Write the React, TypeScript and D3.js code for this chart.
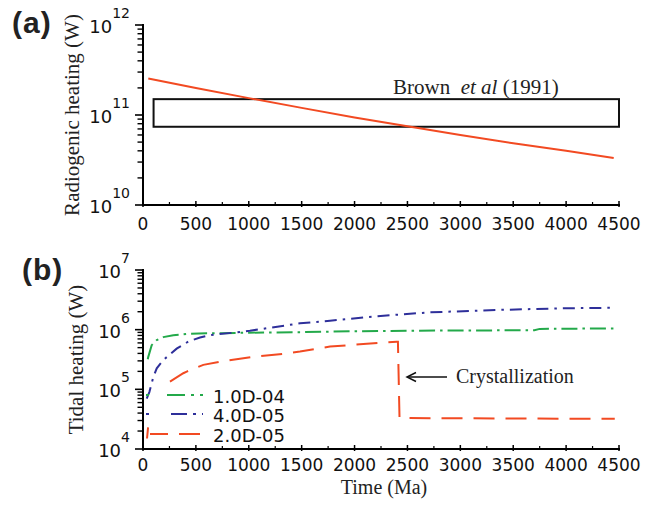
import React from "react";
import * as d3 from "d3";

// ---------- data ----------
const xTickValues = [0, 500, 1000, 1500, 2000, 2500, 3000, 3500, 4000, 4500];
const xMinorValues = [250, 750, 1250, 1750, 2250, 2750, 3250, 3750, 4250];

// panel (a)
const radTime = [50, 500, 1000, 1500, 2000, 2500, 3000, 3500, 4000, 4450];
const radValue = [2.54e11, 2.0e11, 1.54e11, 1.2e11, 9.4e10, 7.5e10, 6.0e10, 4.85e10, 4.0e10, 3.33e10];
const brownTime = [100, 4500];
const brownValue = [7.4e10, 1.5e11];
const yDecadesA = [10, 11, 12];

// panel (b)
const greenTime = [45, 50, 82, 130, 192, 286, 413, 602, 750, 1000, 1500, 2000, 2500, 3000, 3500, 3700, 3750, 4450];
const greenValue = [3.2e5, 3.5e5, 5.5e5, 6.7e5, 7.5e5, 8.05e5, 8.5e5, 8.7e5, 8.75e5, 8.9e5, 9.1e5, 9.4e5, 9.6e5, 9.7e5, 9.75e5, 9.8e5, 1.03e6, 1.05e6];
const blueTime = [35, 60, 82, 97, 130, 192, 318, 428, 539, 633, 854, 1011, 1484, 1768, 2083, 2400, 2713, 3344, 3973, 4450];
const blueValue = [7e4, 9e4, 1.26e5, 1.6e5, 2.25e5, 3.1e5, 4.8e5, 6.3e5, 7.4e5, 8.1e5, 8.9e5, 9.6e5, 1.28e6, 1.41e6, 1.6e6, 1.78e6, 1.95e6, 2.14e6, 2.28e6, 2.33e6];
const redTime = [38, 48, 150, 255, 381, 413, 570, 728, 1043, 1358, 1484, 1768, 2083, 2398, 2410, 2425, 4460];
const redValue = [1.5e4, 2.3e4, NaN, 1.35e5, 1.86e5, 1.98e5, 2.57e5, 2.9e5, 3.5e5, 4.0e5, 4.3e5, 5.2e5, 5.75e5, 6.3e5, 6.3e5, 3.3e4, 3.2e4];
const yDecadesB = [4, 5, 6, 7];
const legendLabels = ["1.0D-04", "4.0D-05", "2.0D-05"];

// ---------- styles ----------
const RED = "#f24a22";
const GREEN = "#23a94a";
const BLUE = "#2e2f9a";
const SANS = "'DejaVu Sans', Verdana, sans-serif";
const SERIF = "'Liberation Serif', 'Times New Roman', serif";
const BOLD = "'Liberation Sans', Arial, sans-serif";

const X0 = 143, X1 = 619;
const x = d3.scaleLinear().domain([0, 4500]).range([X0, X1]);
const yA = d3.scaleLog().domain([1e10, 1e12]).range([205, 25]);
const yB = d3.scaleLog().domain([1e4, 1e7]).range([449, 270]);

function XAxis({ y0, labelY }: { y0: number; labelY: number }) {
  return (
    <g>
      <line x1={X0} x2={X1 + 1} y1={y0} y2={y0} stroke="#000" strokeWidth={2} />
      {xTickValues.map((v) => (
        <line key={"M" + v} x1={x(v)} x2={x(v)} y1={y0 - 4} y2={y0 + 2} stroke="#000" strokeWidth={1.5} />
      ))}
      {xMinorValues.map((v) => (
        <line key={"m" + v} x1={x(v)} x2={x(v)} y1={y0 - 3} y2={y0} stroke="#000" strokeWidth={1.2} />
      ))}
      {xTickValues.map((v) => (
        <text key={"t" + v} x={x(v)} y={labelY} textAnchor="middle" fontFamily={SANS} fontSize={17} fill="#111">
          {v}
        </text>
      ))}
    </g>
  );
}

function YAxis({ scale, decades }: { scale: d3.ScaleLogarithmic<number, number>; decades: number[] }) {
  const [r0, r1] = scale.range();
  const minors: number[] = [];
  for (let i = 0; i < decades.length - 1; i++) {
    for (let k = 2; k <= 9; k++) minors.push(k * Math.pow(10, decades[i]));
  }
  return (
    <g>
      <line x1={X0} x2={X0} y1={r1 - 1} y2={r0 + 1} stroke="#000" strokeWidth={2} />
      {decades.map((d) => (
        <line key={"M" + d} x1={X0 - 8} x2={X0} y1={scale(Math.pow(10, d))} y2={scale(Math.pow(10, d))} stroke="#000" strokeWidth={1.6} />
      ))}
      {minors.map((v) => (
        <line key={"m" + v} x1={X0 - 5.5} x2={X0} y1={scale(v)} y2={scale(v)} stroke="#000" strokeWidth={1.4} />
      ))}
      {decades.map((d) => (
        <text key={"t" + d} x={130} y={scale(Math.pow(10, d)) + 8} textAnchor="end" fontFamily={SANS} fill="#111">
          <tspan fontSize={18}>10</tspan>
          <tspan fontSize={14} dy={-15}>{d}</tspan>
        </text>
      ))}
    </g>
  );
}

export default function App() {
  const lineA = d3
    .line<number>()
    .x((_, i) => x(radTime[i]))
    .y((v) => yA(v));
  const mk = (times: number[]) =>
    d3
      .line<number>()
      .defined((v) => !isNaN(v))
      .x((_, i) => x(times[i]))
      .y((v) => yB(v));

  const series = [
    { t: greenTime, v: greenValue, c: GREEN, dash: "16 5 2.5 5" },
    { t: blueTime, v: blueValue, c: BLUE, dash: "12 6 2.5 6" },
    { t: redTime, v: redValue, c: RED, dash: "21 11" },
  ];
  const legendDash = ["3 18 18 6 3 6 3 20", "3 22 16 6 3 6 3 20", "0 4 18 11 21 11"];
  const legendY = [395, 414, 434];

  return (
    <svg width={659} height={507} style={{ position: "absolute", left: 0, top: 0, background: "#fff" }}>
      {/* Panel (a) */}
      <text x={12} y={33} fontFamily={BOLD} fontWeight="bold" fontSize={30} letterSpacing={1} fill="#222">(a)</text>
      <text transform={`translate(79,${(25 + 205) / 2}) rotate(-90)`} textAnchor="middle" fontFamily={SERIF} fontSize={21} fill="#222">
        Radiogenic heating (W)
      </text>
      <rect
        x={x(brownTime[0])}
        y={yA(brownValue[1])}
        width={x(brownTime[1]) - x(brownTime[0])}
        height={yA(brownValue[0]) - yA(brownValue[1])}
        fill="none"
        stroke="#111"
        strokeWidth={2}
      />
      <text x={393} y={94} fontFamily={SERIF} fontSize={21} fill="#222">
        Brown{"\u00a0\u00a0"}<tspan fontStyle="italic">et al</tspan>{"\u00a0"}(1991)
      </text>
      <path d={lineA(radValue) || ""} fill="none" stroke={RED} strokeWidth={2} />
      <YAxis scale={yA} decades={yDecadesA} />
      <XAxis y0={205} labelY={230} />

      {/* Panel (b) */}
      <text x={22} y={280} fontFamily={BOLD} fontWeight="bold" fontSize={30} letterSpacing={1} fill="#222">(b)</text>
      <text transform={`translate(83,${(270 + 449) / 2}) rotate(-90)`} textAnchor="middle" fontFamily={SERIF} fontSize={21} fill="#222">
        Tidal heating (W)
      </text>
      {series.map((s, i) => (
        <path key={i} d={mk(s.t)(s.v) || ""} fill="none" stroke={s.c} strokeWidth={2} strokeDasharray={s.dash} />
      ))}
      {series.map((s, i) => (
        <g key={"lg" + i}>
          <line x1={146} x2={203} y1={legendY[i]} y2={legendY[i]} stroke={s.c} strokeWidth={2} strokeDasharray={legendDash[i]} />
          <text x={213} y={legendY[i] + 8} fontFamily={SANS} fontSize={18} fill="#111">{legendLabels[i]}</text>
        </g>
      ))}
      <line x1={447} x2={408} y1={377} y2={377} stroke="#111" strokeWidth={1.5} />
      <path d="M416,372.5 L407,377 L416,381.5" fill="none" stroke="#111" strokeWidth={1.5} />
      <text x={456} y={383} fontFamily={SERIF} fontSize={20} fill="#222">Crystallization</text>
      <text x={(X0 + X1) / 2 + 3} y={494} textAnchor="middle" fontFamily={SERIF} fontSize={20} fill="#222">Time (Ma)</text>
      <YAxis scale={yB} decades={yDecadesB} />
      <XAxis y0={449} labelY={471} />
    </svg>
  );
}
